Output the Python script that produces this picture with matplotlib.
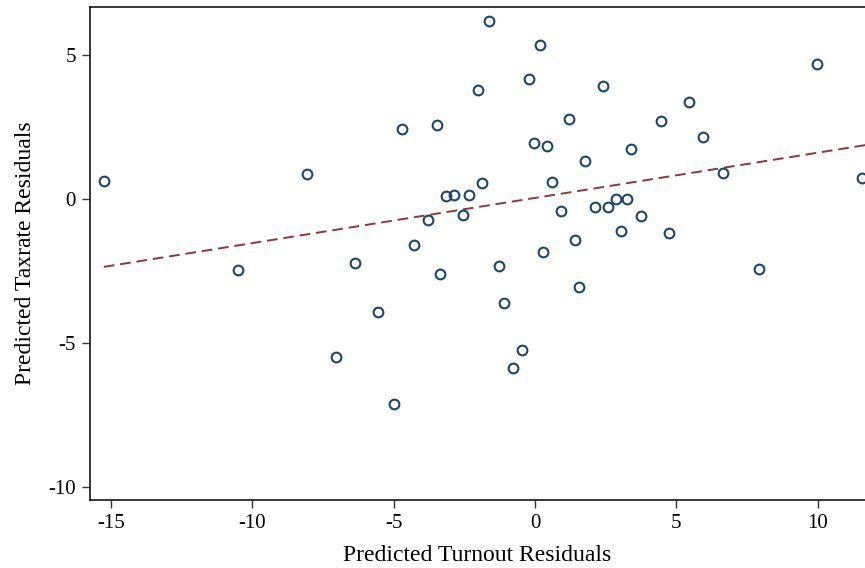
import numpy as np
import matplotlib
matplotlib.use("Agg")
import matplotlib.pyplot as plt

plt.rcParams['font.family'] = ['Liberation Serif', 'DejaVu Serif']

# residuals (x: turnout, y: taxrate)
turnout_resid = [-15.26, -10.50, -8.08, -7.03, -6.37, -5.57, -5.00, -4.71, -4.29, -3.80,
                 -3.47, -3.35, -3.16, -2.88, -2.54, -2.35, -2.03, -1.86, -1.62, -1.29,
                 -1.11, -0.79, -0.47, -0.22, -0.04, 0.19, 0.28, 0.42, 0.60, 0.93,
                 1.20, 1.40, 1.56, 1.77, 2.12, 2.39, 2.59, 2.86, 3.03, 3.24,
                 3.40, 3.75, 4.46, 4.75, 5.46, 5.96, 6.65, 7.93, 9.98, 11.56]
taxrate_resid = [0.63, -2.47, 0.88, -5.47, -2.22, -3.91, -7.12, 2.45, -1.61, -0.71,
                 2.56, -2.62, 0.10, 0.13, -0.56, 0.14, 3.80, 0.57, 6.18, -2.33,
                 -3.61, -5.86, -5.25, 4.17, 1.96, 5.35, -1.85, 1.83, 0.59, -0.42,
                 2.78, -1.42, -3.07, 1.31, -0.27, 3.92, -0.28, 0.00, -1.11, 0.00,
                 1.74, -0.58, 2.70, -1.19, 3.37, 2.14, 0.89, -2.42, 4.69, 0.74]

# fitted line as drawn in the reference
fit_slope = 0.157
fit_intercept = 0.04

x_ticks = [-15, -10, -5, 0, 5, 10]
y_ticks = [5, 0, -5, -10]

x = np.array(turnout_resid)
y = np.array(taxrate_resid)
xf = np.array([x.min(), 11.7])

fig = plt.figure(figsize=(8.65, 5.68), dpi=100)
ax = fig.add_axes([0.104, 0.120, 0.896, 0.867])

ax.plot(xf, fit_intercept + fit_slope * xf, color='#90353b', lw=1.4,
        linestyle=(0, (5.5, 3)), zorder=2)
ax.plot(x, y, 'o', ms=7, mfc='none', mec='#1a476f', mew=1.5, zorder=3, clip_on=False)

ax.set_xlim(-15.75, 11.68)
ax.set_ylim(-10.45, 6.66)
ax.set_xticks(x_ticks)
ax.set_yticks(y_ticks)
ax.set_xticklabels([str(t) for t in x_ticks])
ax.set_yticklabels([str(t) for t in y_ticks])

for s in ['left', 'bottom', 'top']:
    ax.spines[s].set_linewidth(1.1)
ax.spines['right'].set_visible(False)
ax.tick_params(direction='out', length=6, width=1, labelsize=15, pad=4, color='#333333')

ax.set_xlabel('Predicted Turnout Residuals', fontsize=17, labelpad=9)
ax.set_ylabel('Predicted Taxrate Residuals', fontsize=17, labelpad=9)

fig.savefig('out.png', dpi=100)
